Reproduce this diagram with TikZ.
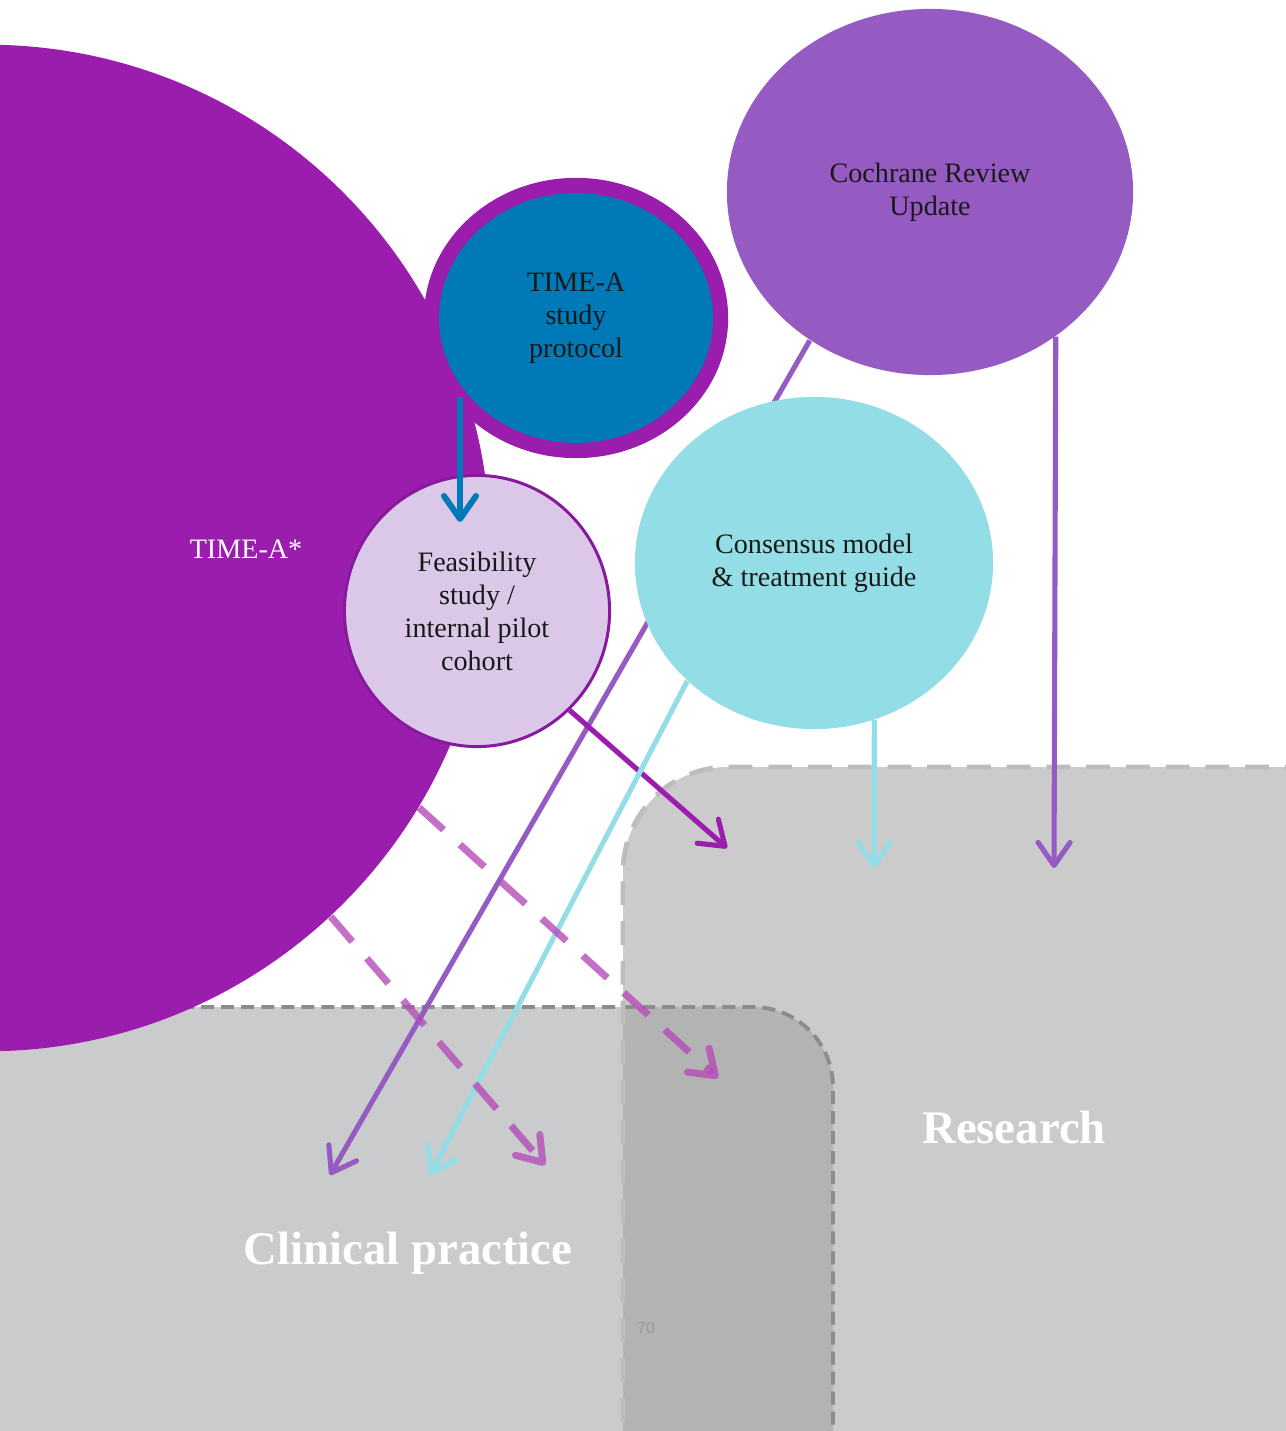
\documentclass[tikz,border=0pt]{standalone}
\usepackage{fontspec}
\setmainfont{Liberation Serif}
\newfontfamily\pagefont{Liberation Sans}
\usetikzlibrary{shapes.geometric,arrows.meta}

\definecolor{timeapurple}{HTML}{9B1DAE}
\definecolor{protoblue}{HTML}{0079B8}
\definecolor{feaslilac}{HTML}{DBC8E8}
\definecolor{feasedge}{HTML}{86199C}
\definecolor{cochviolet}{HTML}{955BC2}
\definecolor{conscyan}{HTML}{93DDE6}
\definecolor{dashpink}{HTML}{B44CB8}
\definecolor{zonegrey}{HTML}{CBCBCB}
\definecolor{zoneclin}{HTML}{CACBCC}
\definecolor{zonemix}{HTML}{B3B3B3}

\tikzset{
  bubble/.style={ellipse, inner sep=0pt, align=center, text=black!90,
    font=\fontsize{8}{9.4}\selectfont},
  link/.style={line width=1.45pt, -{Straight Barb[round,length=2.3mm,width=3.2mm]}},
  dlink/.style={link, line width=2pt, dash pattern=on 9.4pt off 6.3pt, draw opacity=0.8},
  zonetext/.style={text=white, font=\fontsize{13.3}{15}\selectfont\bfseries},
}

\begin{document}
\begin{tikzpicture}[x=0.01cm, y=-0.01cm]
  \useasboundingbox (0,0) rectangle (1286,1431);
  \clip (0,0) rectangle (1286,1431);
  % zones
  \fill[zonegrey, rounded corners=1.05cm] (623,1700) -- (623,767) -- (1500,767)
      -- (1500,1700) -- cycle; % research
  \fill[zoneclin, rounded corners=0.8cm] (-300,1007) -- (833,1007) -- (833,1700)
      -- (-300,1700) -- cycle; % clinical practice
  \begin{scope}
    \clip[rounded corners=1.05cm] (623,1700) -- (623,767) -- (1500,767)
        -- (1500,1700) -- cycle;
    \fill[zonemix, rounded corners=0.8cm] (-300,1007) -- (833,1007) -- (833,1700)
        -- (-300,1700) -- cycle; % overlap
  \end{scope}
  \draw[black!45, line width=1.1pt, dash pattern=on 3.7pt off 2pt, rounded corners=0.8cm]
      (-300,1007) -- (833,1007) -- (833,1700);
  \draw[black!26, line width=1.4pt, dash pattern=on 6.8pt off 4.5pt, rounded corners=1.05cm]
      (623,1700) -- (623,767) -- (1500,767);
  \node[zonetext] (research) at (1014,1127) {Research};
  \node[zonetext] (clinical) at (408,1253) {Clinical practice};
  \node[text=black!40, font=\pagefont\fontsize{4.5}{5}\selectfont] (pagenum) at (646,1328) {70};

  % arrow ends
  \coordinate (fz-in) at (460,522);
  \coordinate (rs-a) at (727,848);
  \coordinate (rs-b) at (874,868);
  \coordinate (rs-c) at (1054,868);
  \coordinate (rs-d) at (718,1078);
  \coordinate (cp-a) at (330,1175);
  \coordinate (cp-b) at (430,1175);
  \coordinate (cp-c) at (545,1165);

  % bubbles
  \node[circle, fill=timeapurple, minimum size=10.06cm, inner sep=0pt] (timea) at (-13,548) {};
  \node[text=white, font=\fontsize{8}{9.4}\selectfont] (timealabel) at (246,549) {TIME-A*};
  \node[bubble, fill=cochviolet, minimum width=4.06cm, minimum height=3.66cm]
      (cochrane) at (930,192) {Cochrane Review\\Update};
  \draw[link, cochviolet] (cochrane.231) -- (cp-a);
  \node[bubble, fill=conscyan, minimum width=3.58cm, minimum height=3.32cm]
      (consensus) at (814,563) {Consensus model\\\& treatment guide};
  \node[bubble, fill=protoblue, draw=timeapurple, line width=4.3pt,
      minimum width=2.89cm, minimum height=2.65cm]
      (protocol) at (576,318) {TIME-A\\study\\protocol};
  \node[bubble, fill=feaslilac, draw=feasedge, line width=0.85pt,
      minimum width=2.65cm, minimum height=2.71cm]
      (feasibility) at (477,611) {Feasibility\\study /\\internal pilot\\cohort};

  % links
  \draw[link, protoblue, line width=1.7pt] (fz-in |- protocol.212) -- (fz-in);
  \draw[link, timeapurple] (feasibility.-47) -- (rs-a);
  \draw[link, conscyan] (consensus.-69) -- (rs-b);
  \draw[link, conscyan] (consensus.223) -- (cp-b);
  \draw[link, cochviolet] (cochrane.-49.5) -- (rs-c);
  \draw[dlink, dashpink] (timea.-31) -- (rs-d);
  \draw[dlink, dashpink] (timea.-47) -- (cp-c);
\end{tikzpicture}
\end{document}
